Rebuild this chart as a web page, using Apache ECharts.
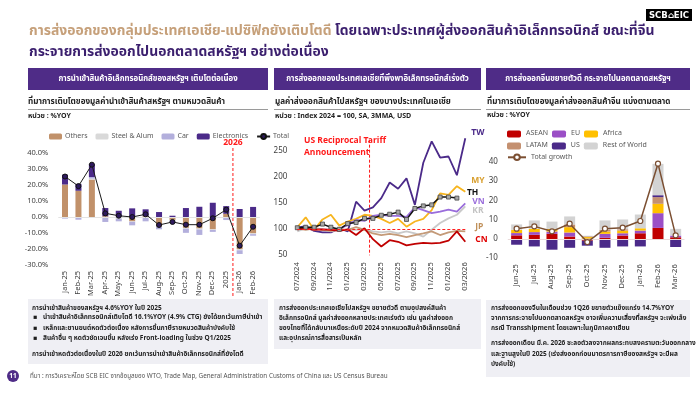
<!DOCTYPE html>
<html><head><meta charset="utf-8">
<script src="https://cdn.jsdelivr.net/npm/echarts@6.0.0/dist/echarts.min.js"></script>
<style>html,body{margin:0;padding:0;background:#fff;}#c{width:700px;height:394px;}</style>
</head><body><div id="c"></div>
<script>
const FONT = '"Noto Sans Thai","Noto Sans","DejaVu Sans",sans-serif';

// ---- Left chart: US imports growth by category (%YOY)
const impCats = ['Jan-25','Feb-25','Mar-25','Apr-25','May-25','Jun-25','Jul-25','Aug-25','Sep-25','Oct-25','Nov-25','Dec-25','2025','Jan-26','Feb-26'];
const impOthers = [20.3,16.4,23.4,0.5,0.3,-2.7,0.5,-6.0,-1.8,-6.8,-7.2,-7.7,2.0,-20.0,-10.2];
const impSteel  = [0,0,0.6,-0.5,-1.0,-0.3,-0.6,-0.2,-0.3,-0.5,-0.6,-0.4,-0.4,-0.8,-0.5];
const impCar    = [-1.0,-1.7,1.0,-2.6,-1.7,-2.2,-2.1,-1.5,-1.0,-2.6,-3.4,-1.2,-1.5,-2.3,-1.0];
const impElec   = [6.2,4.3,8.0,5.1,3.6,5.4,4.3,3.1,0.8,5.6,6.4,8.9,4.8,5.0,6.3];
const impTotal  = [25.3,19.3,32.7,2.3,0.8,0.0,1.7,-5.0,-3.1,-4.8,-4.8,-0.8,4.6,-17.9,-6.1];
const impTicks  = [-30,-20,-10,0,10,20,30,40];

// ---- Middle chart: exports to US, index 2024=100
const expMonths = ['07/2024','08/2024','09/2024','10/2024','11/2024','12/2024','01/2025','02/2025','03/2025','04/2025','05/2025','06/2025','07/2025','08/2025','09/2025','10/2025','11/2025','12/2025','01/2026','02/2026','03/2026'];
const expTW = [103,106,97,94,94,102,96,153,136,142,160,190,178,198,147,228,269,238,240,204,275];
const expMY = [104,123,99,119,128,107,115,120,128,126,120,112,120,105,115,120,137,169,166,183,172];
const expTH = [103,104,104,110,104,100,111,113,121,121,127,129,133,119,140,145,147,162,162,160,null];
const expVN = [102,103,102,100,99,101,108,118,116,126,128,126,126,124,142,137,131,134,138,134,150];
const expKR = [96,102,99,100,96,100,99,99,100,96,94,96,92,96,92,86,99,112,121,128,144];
const expJP = [102,99,102,99,97,100,99,104,99,92,89,91,89,85,89,92,96,89,94,97,96];
const expCN = [100,102,99,100,99,97,100,89,102,81,67,79,76,69,72,74,73,74,78,96,76];

// ---- Right chart: China export growth by market (%YOY)
const chnCats  = ['Jun-25','Jul-25','Aug-25','Sep-25','Oct-25','Nov-25','Dec-25','Jan-26','Feb-26','Mar-26'];
const chnASEAN = [2.0,2.3,2.8,1.4,-0.8,0.7,1.9,3.1,5.9,1.0];
const chnEU    = [1.2,1.4,1.2,2.1,0.3,2.1,1.2,1.4,7.7,0.9];
const chnAfrica= [1.7,1.7,1.4,2.8,0.8,1.2,1.4,1.2,4.9,0];
const chnLATAM = [0,0,0,1.4,0.4,0.9,0.7,0,3.5,0];
const chnUS    = [-2.9,-3.8,-5.5,-4.5,-2.6,-4.5,-3.8,-3.8,1.0,-4.1];
const chnRoW   = [2.8,4.4,3.8,4.2,0.3,4.9,5.1,7.2,16.4,3.5];
const chnTotal = [5.5,6.7,4.1,8.1,-1.5,5.5,6.0,9.5,39.5,2.0];

const C = {
  others:'#c1916a', steel:'#d9d9d9', car:'#b3afdc', elec:'#4b2a89',
  tw:'#4b2a89', my:'#f7b51e', th:'#111111', vn:'#9a6ddb', kr:'#c9c9c9', jp:'#c49a78', cn:'#c00000',
  asean:'#c00000', eu:'#9b4fc6', africa:'#ffc000', latam:'#c49070', us:'#4b2a89', row:'#d3d3d3', tot:'#7b4f32'
};
const axisTxt = {color:'#404040', fontSize:7.5, fontFamily:FONT};

const chart = echarts.init(document.getElementById('c'), null, {renderer:'canvas'});

const option = {
  animation:false,
  backgroundColor:'#ffffff',
  textStyle:{fontFamily:FONT},
  grid:[
    {left:58.3, right:440.2, top:153, bottom:129, outerBoundsMode:'none', containLabel:false},
    {left:297.3, right:234.7, top:135.7, bottom:138.7, outerBoundsMode:'none', containLabel:false},
    {left:507.8, right:15.5, top:162.7, bottom:135.7, outerBoundsMode:'none', containLabel:false}
  ],
  legend:[
    {data:['Others','Steel & Alum','Car','Electronics','Total'], left:44, top:128, itemWidth:13, itemHeight:6, itemGap:8,
     textStyle:{color:'#595959', fontSize:7, fontFamily:FONT, padding:[0,0,0,-2]}},
    {data:['ASEAN','EU','Africa'], left:502, top:125.5, itemWidth:14, itemHeight:7, itemGap:4,
     textStyle:{color:'#595959', fontSize:7, fontFamily:FONT, width:40}},
    {data:['LATAM','US','Rest of World'], left:502, top:137.5, itemWidth:14, itemHeight:7, itemGap:4,
     textStyle:{color:'#595959', fontSize:7, fontFamily:FONT, width:40}},
    {data:['Total growth'], left:502, top:148.5, itemWidth:18, itemHeight:7, itemGap:4,
     textStyle:{color:'#595959', fontSize:7, fontFamily:FONT}}
  ],
  xAxis:[
    {type:'category', gridIndex:0, data:impCats, axisLine:{show:false}, axisTick:{show:false},
     axisLabel:Object.assign({rotate:90, interval:0, margin:6}, axisTxt)},
    {type:'category', gridIndex:1, data:expMonths, boundaryGap:false, axisLine:{show:false}, axisTick:{show:false},
     axisLabel:Object.assign({rotate:90, interval:1, margin:7}, axisTxt)},
    {type:'category', gridIndex:2, data:chnCats, axisLine:{show:false}, axisTick:{show:false},
     axisLabel:Object.assign({rotate:90, interval:0, margin:6}, axisTxt)}
  ],
  yAxis:[
    {type:'value', gridIndex:0, min:impTicks[0], max:impTicks[impTicks.length-1], interval:10, splitLine:{show:false},
     axisLabel:Object.assign({formatter:v=>v.toFixed(1)+'%', margin:10}, axisTxt)},
    {type:'value', gridIndex:1, min:50, max:280, interval:50, splitLine:{show:false},
     axisLabel:Object.assign({formatter:v=>(v%50===0?String(v):''), margin:10, showMaxLabel:false}, axisTxt, {fontSize:8})},
    {type:'value', gridIndex:2, min:-10, max:40, interval:10, splitLine:{show:false},
     axisLabel:Object.assign({margin:10}, axisTxt, {fontSize:8})}
  ],
  series:[
    {name:'Others', type:'bar', xAxisIndex:0, yAxisIndex:0, stack:'imp', barWidth:6, data:impOthers, itemStyle:{color:C.others},
     markLine:{silent:true, symbol:'none', label:{show:false}, lineStyle:{color:'#e3e3e3', type:'solid', width:1}, data:[{yAxis:0}]}},
    {name:'Steel & Alum', type:'bar', xAxisIndex:0, yAxisIndex:0, stack:'imp', barWidth:6, data:impSteel, itemStyle:{color:C.steel}},
    {name:'Car', type:'bar', xAxisIndex:0, yAxisIndex:0, stack:'imp', barWidth:6, data:impCar, itemStyle:{color:C.car}},
    {name:'Electronics', type:'bar', xAxisIndex:0, yAxisIndex:0, stack:'imp', barWidth:6, data:impElec, itemStyle:{color:C.elec}},
    {name:'Total', type:'line', xAxisIndex:0, yAxisIndex:0, data:impTotal, symbol:'circle', symbolSize:5, z:5,
     lineStyle:{color:'#1a1a1a', width:1}, itemStyle:{color:'#2e1a5e', borderColor:'#111', borderWidth:1}},

    {name:'TW', type:'line', xAxisIndex:1, yAxisIndex:1, data:expTW, symbol:'none', lineStyle:{color:C.tw, width:1.8}, itemStyle:{color:C.tw},
     endLabel:{show:true, formatter:'{a}', color:C.tw, fontWeight:'bold', fontSize:8.5, offset:[-2,-5]}},
    {name:'MY', type:'line', xAxisIndex:1, yAxisIndex:1, data:expMY, symbol:'none', lineStyle:{color:C.my, width:1.8}, itemStyle:{color:C.my},
     endLabel:{show:true, formatter:'{a}', color:'#d9a030', fontWeight:'bold', fontSize:8.5, offset:[-2,-11]}},
    {name:'VN', type:'line', xAxisIndex:1, yAxisIndex:1, data:expVN, symbol:'none', lineStyle:{color:C.vn, width:1.8}, itemStyle:{color:C.vn},
     endLabel:{show:true, formatter:'{a}', color:C.vn, fontWeight:'bold', fontSize:8.5, offset:[-1,-1]}},
    {name:'KR', type:'line', xAxisIndex:1, yAxisIndex:1, data:expKR, symbol:'none', lineStyle:{color:C.kr, width:1.8}, itemStyle:{color:C.kr},
     endLabel:{show:true, formatter:'{a}', color:'#c3c3c3', fontWeight:'bold', fontSize:8.5, offset:[-1,5]}},
    {name:'JP', type:'line', xAxisIndex:1, yAxisIndex:1, data:expJP, symbol:'none', lineStyle:{color:C.jp, width:1.8}, itemStyle:{color:C.jp},
     endLabel:{show:true, formatter:'{a}', color:'#c0905a', fontWeight:'bold', fontSize:8.5, offset:[2,-4]}},
    {name:'CN', type:'line', xAxisIndex:1, yAxisIndex:1, data:expCN, symbol:'none', lineStyle:{color:C.cn, width:1.8}, itemStyle:{color:C.cn},
     endLabel:{show:true, formatter:'{a}', color:'#e00000', fontWeight:'bold', fontSize:8.5, offset:[2,-1]},
     markLine:{silent:true, symbol:'none', label:{show:false}, lineStyle:{color:'#ff2020', type:[3,2], width:1}, data:[{yAxis:100}]}},
    {name:'TH', type:'line', xAxisIndex:1, yAxisIndex:1, data:expTH, symbol:'rect', symbolSize:4, showSymbol:true, z:4,
     lineStyle:{color:C.th, width:1.5}, itemStyle:{color:'#a8a8a8', borderColor:'#444', borderWidth:0.8},
     endLabel:{show:true, formatter:'{a}', color:'#111', fontWeight:'bold', fontSize:8.5, offset:[2,-5]}},

    {name:'ASEAN', type:'bar', xAxisIndex:2, yAxisIndex:2, stack:'chn', barWidth:11, data:chnASEAN, itemStyle:{color:C.asean},
     markLine:{silent:true, symbol:'none', label:{show:false}, lineStyle:{color:'#eadada', type:'solid', width:1}, data:[{yAxis:0}]}},
    {name:'EU', type:'bar', xAxisIndex:2, yAxisIndex:2, stack:'chn', barWidth:11, data:chnEU, itemStyle:{color:C.eu}},
    {name:'Africa', type:'bar', xAxisIndex:2, yAxisIndex:2, stack:'chn', barWidth:11, data:chnAfrica, itemStyle:{color:C.africa}},
    {name:'LATAM', type:'bar', xAxisIndex:2, yAxisIndex:2, stack:'chn', barWidth:11, data:chnLATAM, itemStyle:{color:C.latam}},
    {name:'US', type:'bar', xAxisIndex:2, yAxisIndex:2, stack:'chn', barWidth:11, data:chnUS, itemStyle:{color:C.us}},
    {name:'Rest of World', type:'bar', xAxisIndex:2, yAxisIndex:2, stack:'chn', barWidth:11, data:chnRoW, itemStyle:{color:C.row}},
    {name:'Total growth', type:'line', xAxisIndex:2, yAxisIndex:2, data:chnTotal, symbol:'circle', symbolSize:5, z:5,
     lineStyle:{color:C.tot, width:1.5}, itemStyle:{color:'#ffffff', borderColor:C.tot, borderWidth:1.2}}
  ]
};
chart.setOption(option);

// Positions of reference lines derived from the axes
const px = (axis, cat) => chart.convertToPixel({xAxisIndex:axis}, cat);
const x2026 = (px(0,'2025') + px(0,'Jan-26'))/2;
const xTariff = px(1,'03/2025') + 0.6*(px(1,'04/2025') - px(1,'03/2025'));
const yTop1 = chart.convertToPixel({yAxisIndex:1}, 280);
const yBot1 = chart.convertToPixel({yAxisIndex:1}, 50);

function T(text, x, y, o){ return {type:'text', silent:true, style:Object.assign({text:text, x:x, y:y, fill:'#222', fontSize:8, fontFamily:FONT, verticalAlign:'middle', align:'left'}, o||{})}; }
function R(x,y,w,h,fill){ return {type:'rect', silent:true, shape:{x:x,y:y,width:w,height:h}, style:{fill:fill}}; }
function L(x1,y1,x2,y2,stroke,dash,w){ return {type:'line', silent:true, shape:{x1:x1,y1:y1,x2:x2,y2:y2}, style:{stroke:stroke, lineWidth:w||1, lineDash:dash||null}}; }

const HDR = '#4f2c87';
const TS = 13.9;
const g = [];
// logo
g.push(R(646,9,46,12,'#000'));
g.push(T('SCB⌂EIC', 669, 15.5, {fill:'#fff', fontWeight:'bold', fontSize:8.5, align:'center', fontFamily:'"DejaVu Sans",sans-serif'}));
// title
g.push({type:'text', silent:true, style:{x:29, y:32, verticalAlign:'middle', fontFamily:FONT, fontWeight:'bold', fontSize:TS,
  text:'{a|การส่งออกของกลุ่มประเทศเอเชีย-แปซิฟิกยังเติบโตดี} {b|โดยเฉพาะประเทศผู้ส่งออกสินค้าอิเล็กทรอนิกส์ ขณะที่จีน}',
  rich:{a:{fill:'#c6a07a', fontWeight:'bold', fontSize:TS, fontFamily:FONT}, b:{fill:'#3b1f6e', fontWeight:'bold', fontSize:TS, fontFamily:FONT}}}});
g.push(T('กระจายการส่งออกไปนอกตลาดสหรัฐฯ อย่างต่อเนื่อง', 29, 53, {fill:'#3b1f6e', fontWeight:'bold', fontSize:TS}));
// headers
g.push(R(28,68,240,22,HDR)); g.push(R(274,68,207,22,HDR)); g.push(R(486,68,204,22,HDR));
g.push(T('การนำเข้าสินค้าอิเล็กทรอนิกส์ของสหรัฐฯ เติบโตต่อเนื่อง', 148, 79, {fill:'#fff', fontWeight:'bold', fontSize:7.8, align:'center'}));
g.push(T('การส่งออกของประเทศเอเชียที่พึ่งพาอิเล็กทรอนิกส์เร่งตัว', 377.5, 79, {fill:'#fff', fontWeight:'bold', fontSize:7.8, align:'center'}));
g.push(T('การส่งออกจีนขยายตัวดี กระจายไปนอกตลาดสหรัฐฯ', 588, 79, {fill:'#fff', fontWeight:'bold', fontSize:7.8, align:'center'}));
// subtitles
const st = {fontWeight:'bold', fontSize:8.1, fill:'#222'};
g.push(T('ที่มาการเติบโตของมูลค่านำเข้าสินค้าสหรัฐฯ ตามหมวดสินค้า', 28, 102, st));
g.push(T('มูลค่าส่งออกสินค้าไปสหรัฐฯ ของบางประเทศในเอเชีย', 275, 102, st));
g.push(T('ที่มาการเติบโตของมูลค่าส่งออกสินค้าจีน แบ่งตามตลาด', 487, 102, st));
g.push(L(28,109.5,268,109.5,'#9a9a9a')); g.push(L(274,109.5,481,109.5,'#9a9a9a')); g.push(L(486,109.5,690,109.5,'#9a9a9a'));
g.push(T('หน่วย : %YOY', 28, 117, {fontWeight:'bold', fontSize:7}));
g.push(T('หน่วย : Index 2024 = 100, SA, 3MMA, USD', 275, 117, {fontWeight:'bold', fontSize:7}));
g.push(T('หน่วย : %YOY', 487, 116, {fontWeight:'bold', fontSize:7}));
// 2026 marker
g.push(L(x2026,148,x2026,296,'#ff1a1a',[3,2],1));
g.push(T('2026', x2026, 143, {fill:'#ff1a1a', fontWeight:'bold', fontSize:8.5, align:'center'}));
// tariff marker
g.push(L(xTariff,yTop1+4,xTariff,yBot1,'#ff1a1a',[3,2],1));
g.push(T('US Reciprocal Tariff', 304, 141.5, {fill:'#ff1a1a', fontWeight:'bold', fontSize:8.5}));
g.push(T('Announcement', 304, 153.5, {fill:'#ff1a1a', fontWeight:'bold', fontSize:8.5}));
// text boxes
const BOX = '#efeff4';
g.push(R(28,299,240,65,BOX)); g.push(R(274,299,207,50,BOX)); g.push(R(486,300,204,77,BOX));
const bt = {fontWeight:'bold', fontSize:6.5, fill:'#1e1e1e'};
g.push(T('การนำเข้าสินค้าของสหรัฐฯ 4.6%YOY ในปี 2025', 32, 308.5, bt));
g.push(T('▪', 33, 318, bt)); g.push(T('นำเข้าสินค้าอิเล็กทรอนิกส์เติบโตดี 16.1%YOY (4.9% CTG) ยังได้ยกเว้นภาษีนำเข้า', 43, 318, bt));
g.push(T('▪', 33, 328.5, bt)); g.push(T('เหล็กและยานยนต์หดตัวต่อเนื่อง หลังการขึ้นภาษีรายหมวดสินค้าบังคับใช้', 43, 328.5, bt));
g.push(T('▪', 33, 339, bt)); g.push(T('สินค้าอื่น ๆ หดตัวชัดเจนขึ้น หลังเร่ง Front-loading ในช่วง Q1/2025', 43, 339, bt));
g.push(T('การนำเข้าหดตัวต่อเนื่องในปี 2026 ยกเว้นการนำเข้าสินค้าอิเล็กทรอนิกส์ที่ยังโตดี', 32, 355, bt));
g.push(T('การส่งออกประเทศเอเชียไปสหรัฐฯ ขยายตัวดี ตามอุปสงค์สินค้า', 279, 309, bt));
g.push(T('อิเล็กทรอนิกส์ มูลค่าส่งออกหลายประเทศเร่งตัว เช่น มูลค่าส่งออก', 279, 318.5, bt));
g.push(T('ของไทยที่ได้กลับมาเหนือระดับปี 2024 จากหมวดสินค้าอิเล็กทรอนิกส์', 279, 328.5, bt));
g.push(T('และอุปกรณ์การสื่อสารเป็นหลัก', 279, 339, bt));
g.push(T('การส่งออกของจีนในเดือนช่วง 1Q26 ขยายตัวแข็งแกร่ง 14.7%YOY', 491, 308.5, bt));
g.push(T('จากการกระจายไปนอกตลาดสหรัฐฯ อาจเพิ่มความเสี่ยงที่สหรัฐฯ จะเพ่งเล็ง', 491, 318.5, bt));
g.push(T('กรณี Transshipment โดยเฉพาะในภูมิภาคอาเซียน', 491, 328.5, bt));
g.push(T('การส่งออกเดือน มี.ค. 2026 ชะลอตัวลงจากผลกระทบสงครามตะวันออกกลาง', 491, 344, bt));
g.push(T('และฐานสูงในปี 2025 (เร่งส่งออกก่อนมาตรการภาษีของสหรัฐฯ จะมีผล', 491, 354.5, bt));
g.push(T('บังคับใช้)', 491, 365, bt));
// footer
g.push({type:'circle', silent:true, shape:{cx:13, cy:376, r:6}, style:{fill:'#4f2c87'}});
g.push(T('11', 13, 376.5, {fill:'#fff', fontSize:6.5, align:'center', fontWeight:'bold'}));
g.push(T('ที่มา : การวิเคราะห์โดย SCB EIC จากข้อมูลของ WTO, Trade Map, General Administration Customs of China และ US Census Bureau', 30, 376.5, {fontSize:6.3, fill:'#555'}));

chart.setOption({graphic:g});
</script>
</body></html>
